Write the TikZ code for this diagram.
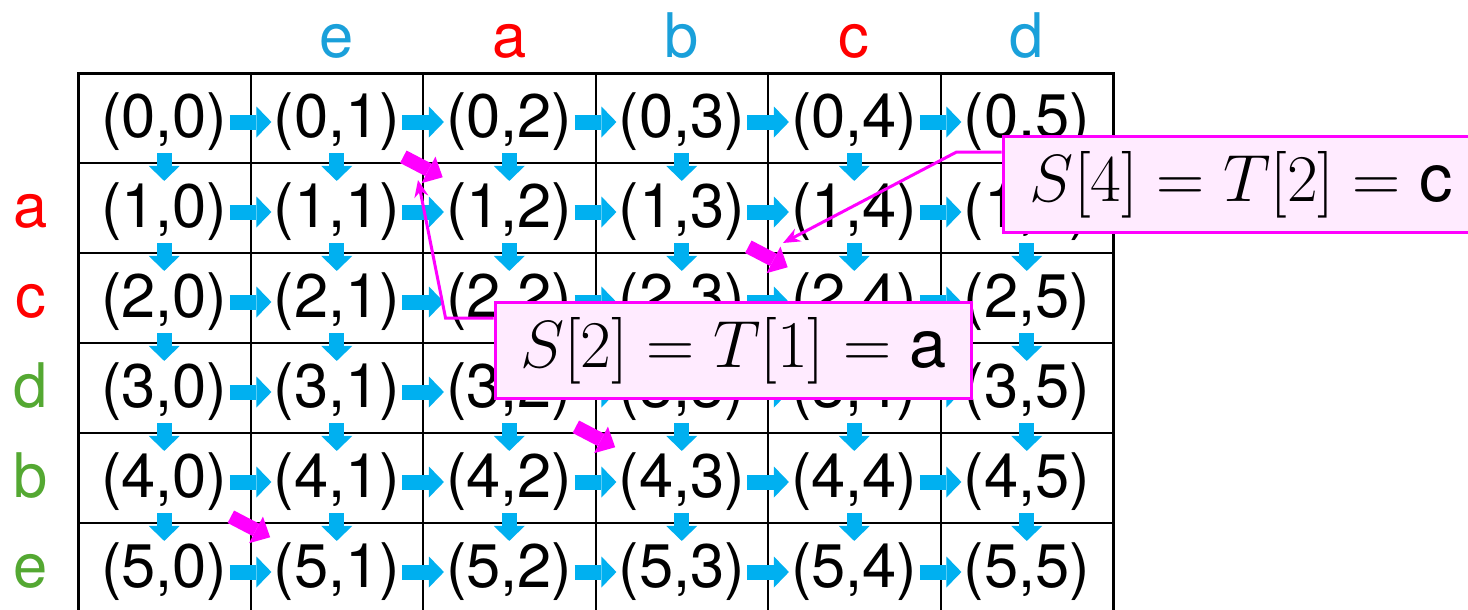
\RequirePackage{fix-cm}
\documentclass[tikz,border=0pt]{standalone}
\usepackage[no-math]{fontspec}
\setmainfont{TeX Gyre Heros}
\usepackage{xcolor}
\usepackage{tikz}
\usetikzlibrary{positioning,arrows.meta,calc}

\definecolor{flowblue}{RGB}{0,176,240}
\definecolor{hdrblue}{RGB}{26,160,218}
\definecolor{hdrred}{RGB}{255,0,0}
\definecolor{hdrgreen}{RGB}{84,168,50}
\definecolor{mgn}{RGB}{255,0,255}
\definecolor{notefill}{RGB}{255,235,255}

\begin{document}
\begin{tikzpicture}[
x=0.02cm, y=-0.02cm,
font=\fontsize{35}{42}\selectfont,
cell/.style={inner sep=1pt},
lbl/.style={anchor=base},
gridl/.style={line width=0.04cm},
gridout/.style={line width=0.06cm},
flow/.style={-{Triangle[length=0.3cm,width=0.62cm,line width=0pt]}, line width=0.3cm, flowblue},
match/.style={-{Triangle[length=0.32cm,width=0.6cm,line width=0pt]}, line width=0.28cm, mgn, shorten <=0.16cm, shorten >=0.16cm},
note/.style={draw=mgn, fill=notefill, line width=0.06cm, minimum width=9.54cm, minimum height=1.92cm, font=\fontsize{38}{45}\selectfont},
pointer/.style={-{Stealth[length=0.34cm,width=0.28cm]}, mgn, line width=0.06cm}
]
\useasboundingbox (0,0) rectangle (1468,609);
\foreach \c in {1,...,5}
  \draw[gridl] ({78+172.5*\c},73) -- ({78+172.5*\c},613);
\foreach \r in {1,...,5}
  \draw[gridl] (78,{73+90*\r}) -- (1113,{73+90*\r});
\draw[gridout] (78,73) rectangle (1113,613);

\foreach \r in {0,...,5}
  \foreach \c in {0,...,5}
    \node[cell] (n-\r-\c) at ({78+172.5*(\c+0.5)},{73+90*(\r+0.5)+4}) {(\r,\c)};

\foreach \r in {0,...,5}
  \foreach \c [count=\cn from 1] in {0,...,4}
    \draw[flow] (n-\r-\c.east) -- (n-\r-\cn.west);
\foreach \r [count=\rn from 1] in {0,...,4}
  \foreach \c in {0,...,5}
    \draw[flow] (n-\r-\c.south) -- (n-\rn-\c.north);

\draw[match] (n-0-1) -- (n-1-2);
\draw[match] (n-1-3) -- (n-2-4);
\draw[match] (n-3-2) -- (n-4-3);
\draw[match] (n-4-0) -- (n-5-1);

\coordinate (hdrrow) at (0,57);
\coordinate (lblcol) at (31,0);
\foreach \c/\ch/\col in {1/e/hdrblue,2/a/hdrred,3/b/hdrblue,4/c/hdrred,5/d/hdrblue}
  \node[lbl, text=\col] (top-\c) at (n-0-\c |- hdrrow) {\ch};
\foreach \r/\ch/\col in {1/a/hdrred,2/c/hdrred,3/d/hdrgreen,4/b/hdrgreen,5/e/hdrgreen}
  \node[lbl, text=\col] (side-\r) at (n-\r-0.base -| lblcol) {\ch};

\node[note] (eqa) at (733.5,350.5) {$S[2] = T[1] = \mbox{a}$};
\node[note] (eqc) at (1241.5,184.5) {$S[4] = T[2] = \mbox{c}$};
\coordinate (tipa) at (418,180);
\coordinate (tipc) at (783,243);
\draw[pointer] ($(eqa.north west)+(0,17)$) -- ++(-48,0) -- (tipa);
\draw[pointer] ($(eqc.north west)+(0,17)$) -- ++(-45,0) -- (tipc);
\end{tikzpicture}
\end{document}
